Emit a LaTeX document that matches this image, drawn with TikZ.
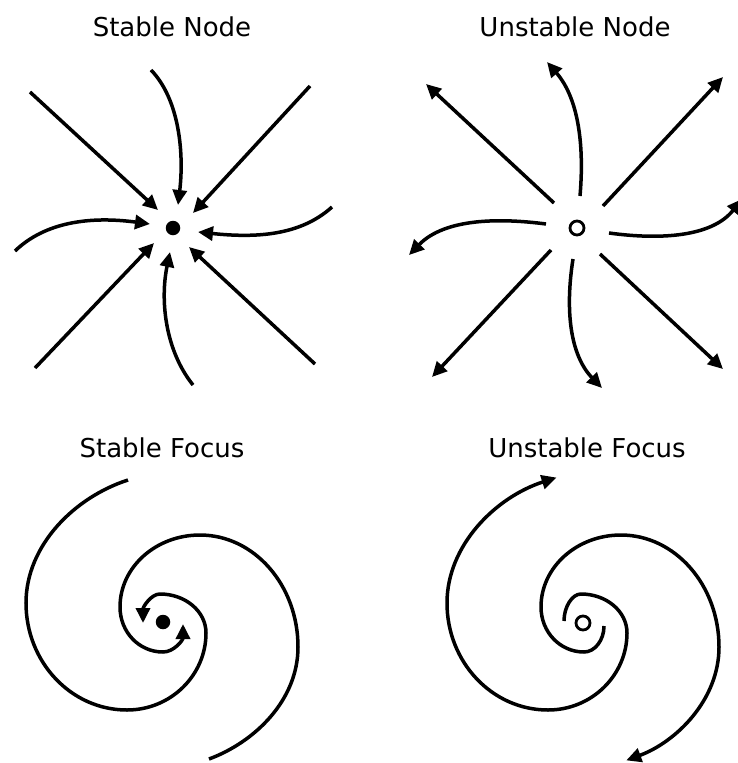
\documentclass[tikz,border=0pt]{standalone}
\usepackage{fontspec}
\setmainfont{DejaVu Sans}
\usetikzlibrary{arrows.meta}
\begin{document}
\begin{tikzpicture}[x=1pt,y=-1pt,
  traj/.style={line width=3.5pt, -{Triangle[length=15pt,width=14pt]}},
  trajr/.style={line width=3.5pt, {Triangle[length=15pt,width=14pt]}-},
  titletext/.style={font=\fontsize{26}{30}\selectfont, anchor=base, inner sep=0pt},
  fixdot/.style={circle, fill=black, inner sep=0pt, minimum size=14.5pt},
  fixring/.style={circle, draw=black, line width=2.8pt, inner sep=0pt, minimum size=14pt}]
\useasboundingbox (0,0) rectangle (737,763);
\node[titletext] (t1) at (172,36) {Stable Node};
\node[titletext] (t2) at (575,36) {Unstable Node};
\node[titletext] (t3) at (162,457) {Stable Focus};
\node[titletext] (t4) at (587,457) {Unstable Focus};

% stable node
\node[fixdot] (sn) at (173,228) {};
\draw[traj] (30,92) -- (158,210);
\draw[traj] (310,86) -- (193,213);
\draw[traj] (35,368) -- (154,243);
\draw[traj] (315,364) -- (189,247);
\draw[traj] (151,70) .. controls (180,100) and (184,155) .. (178,205);
\draw[traj] (15,251) .. controls (45,222) and (90,216) .. (150,224);
\draw[traj] (332,207) .. controls (300,236) and (255,238) .. (198,232);
\draw[traj] (193,385) .. controls (165,350) and (160,300) .. (170,252);

% unstable node
\node[fixring] (un) at (577,228) {};
\draw[traj] (554,203) -- (426,84);
\draw[traj] (603,206) -- (723,77);
\draw[traj] (551,250) -- (432,377);
\draw[traj] (600,254) -- (723,369);
\draw[traj] (580,196) .. controls (584,150) and (580,100) .. (547,62);
\draw[traj] (546,224) .. controls (500,218) and (445,218) .. (409,255);
\draw[traj] (609,233) .. controls (660,240) and (712,237) .. (742,199);
\draw[traj] (573,259) .. controls (565,310) and (570,355) .. (602,388);

% stable focus
\node[fixdot] (sf) at (163,622) {};
\draw[traj] (128,480) .. controls (75,497) and (26,545) .. (26,603)
  .. controls (26,662) and (71,710) .. (127,710)
  .. controls (171,710) and (206,675) .. (206,633)
  .. controls (206,611) and (185,594) .. (160,594)
  .. controls (151,594) and (143,607) .. (143,623);
\draw[traj] (209,759) .. controls (255,742) and (298,700) .. (298,647)
  .. controls (298,585) and (254,535) .. (200,535)
  .. controls (156,535) and (120,567) .. (120,607)
  .. controls (120,632) and (139,652) .. (163,652)
  .. controls (174,652) and (183,640) .. (183,624);

% unstable focus
\node[fixring] (uf) at (583,623) {};
\begin{scope}[xshift=421pt]
\draw[trajr, shorten <=-8pt] (128,480) .. controls (75,497) and (26,545) .. (26,603)
  .. controls (26,662) and (71,710) .. (127,710)
  .. controls (171,710) and (206,675) .. (206,633)
  .. controls (206,611) and (185,594) .. (160,594)
  .. controls (151,594) and (143,607) .. (143,621);
\draw[trajr, shorten <=-4pt] (209,759) .. controls (255,742) and (298,700) .. (298,647)
  .. controls (298,585) and (254,535) .. (200,535)
  .. controls (156,535) and (120,567) .. (120,607)
  .. controls (120,632) and (139,652) .. (163,652)
  .. controls (174,652) and (183,640) .. (183,626);
\end{scope}
\end{tikzpicture}
\end{document}
